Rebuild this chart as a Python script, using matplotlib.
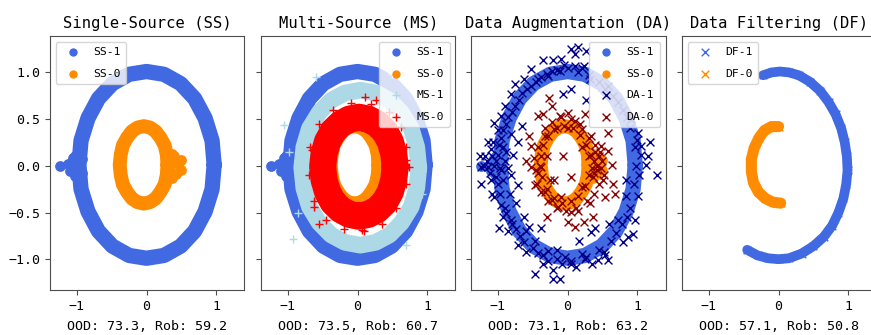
import matplotlib.pyplot as plt

plt.rcParams['font.family'] = 'DejaVu Sans Mono'

titles = ["Single-Source (SS)", "Multi-Source (MS)", "Data Augmentation (DA)", "Data Filtering (DF)"]
scores = ["OOD: 73.3, Rob: 59.2", "OOD: 73.5, Rob: 60.7", "OOD: 73.1, Rob: 63.2", "OOD: 57.1, Rob: 50.8"]

# source ring, class 1 (outer) - centre line
ss1_x = [0.97, 0.94, 0.84, 0.69, 0.49, 0.25, 0.00, -0.25, -0.49, -0.69, -0.84, -0.94,
         -0.97, -0.94, -0.84, -0.69, -0.49, -0.25, 0.00, 0.25, 0.49, 0.69, 0.84, 0.94]
ss1_y = [0.01, 0.27, 0.51, 0.72, 0.88, 0.98, 1.01, 0.98, 0.88, 0.72, 0.51, 0.27,
         0.01, -0.25, -0.49, -0.70, -0.86, -0.96, -0.99, -0.96, -0.86, -0.70, -0.49, -0.25]
ss1_blob_x = [-1.06, -1.10, -1.12, -1.02, -1.03, -0.92, -0.93, -1.245]
ss1_blob_y = [0.08, -0.06, 0.02, 0.11, -0.11, 0.07, -0.08, 0.0]

# source ring, class 0 (inner)
ss0_x = [0.30, 0.29, 0.26, 0.20, 0.13, 0.05, -0.04, -0.13, -0.21, -0.28, -0.34, -0.37,
         -0.385, -0.37, -0.34, -0.28, -0.21, -0.13, -0.04, 0.05, 0.13, 0.20, 0.26, 0.29]
ss0_y = [0.01, 0.12, 0.22, 0.30, 0.37, 0.41, 0.425, 0.41, 0.37, 0.30, 0.22, 0.12,
         0.01, -0.10, -0.20, -0.28, -0.35, -0.39, -0.405, -0.39, -0.35, -0.28, -0.20, -0.10]
ss0_blob_x = [0.40, 0.45, 0.42, 0.33, 0.33, 0.50, 0.50, 0.37, 0.37]
ss0_blob_y = [0.10, 0.02, -0.09, 0.05, -0.06, 0.06, -0.04, 0.13, -0.13]

# multi-source
ms1_x = [0.88, 0.85, 0.77, 0.63, 0.46, 0.26, 0.04, -0.18, -0.38, -0.55, -0.69, -0.77,
         -0.80, -0.77, -0.69, -0.55, -0.38, -0.18, 0.04, 0.26, 0.46, 0.63, 0.77, 0.85]
ms1_y = [-0.02, 0.20, 0.40, 0.57, 0.70, 0.78, 0.81, 0.78, 0.70, 0.57, 0.40, 0.20,
         -0.02, -0.24, -0.44, -0.61, -0.74, -0.82, -0.85, -0.82, -0.74, -0.61, -0.44, -0.24]
ms1_out_x = [-1.06, -0.92, 0.95, -0.60, 0.70, -0.98, 0.50, -0.85, 0.92]
ms1_out_y = [0.44, -0.78, 0.55, 0.95, -0.85, 0.15, 0.98, -0.50, -0.30]
ms0_x = [0.54, 0.52, 0.47, 0.39, 0.28, 0.155, 0.02, -0.115, -0.24, -0.35, -0.43, -0.48,
         -0.50, -0.48, -0.43, -0.35, -0.24, -0.115, 0.02, 0.155, 0.28, 0.39, 0.47, 0.52]
ms0_y = [-0.01, 0.13, 0.26, 0.37, 0.45, 0.50, 0.52, 0.50, 0.45, 0.37, 0.26, 0.13,
         -0.01, -0.15, -0.28, -0.39, -0.47, -0.52, -0.54, -0.52, -0.47, -0.39, -0.28, -0.15]
ms0_out_x = [-0.63, 0.11, 0.74, 0.26, -0.65, 0.69, 0.07, -0.55, 0.70, 0.62, 0.45, 0.20, -0.10,
             -0.35, -0.55, -0.68, -0.70, -0.62, -0.45, -0.20, 0.10, 0.35, 0.55, 0.70]
ms0_out_y = [-0.44, 0.74, -0.01, 0.71, 0.17, 0.06, -0.69, -0.62, 0.20, 0.42, 0.58, 0.66, 0.67,
             0.60, 0.45, 0.20, -0.10, -0.38, -0.58, -0.68, -0.70, -0.62, -0.45, -0.20]

# augmentation
da1_x = [0.05, 0.15, 0.10, 0.27, -0.35, -0.21, -0.09, -0.52, -0.62, -0.76, -0.81, -0.90, -0.95,
         -1.05, -1.14, -0.81, -0.71, -0.66, -0.07, 0.05, 0.27, 0.32, 0.24, -0.42, -0.28, -0.11,
         0.10, 0.91, 1.06, 1.18, 1.15, 1.01, 0.72, 0.53, 1.28, -1.24, -1.14, -0.95, -0.81, -0.71,
         -0.74, -0.95, -1.05, -0.98, -0.62, -0.55, -0.38, -0.71, -0.59, -0.47, -0.21, -0.21,
         -0.11, -0.35, 0.17, 0.34, 0.39, 0.58, 0.53, 0.72, 0.80, 0.87, 0.94, 0.84, 0.96, 1.01,
         1.13, 0.84, 0.05, 0.27, 0.44, -1.24, -1.09, -0.88, -0.81, -0.47, -0.28, -0.04, 0.20,
         -1.15, -1.08, -1.00, -0.90, -1.12, -1.02, -0.92, -1.20, -1.05, -0.88, -1.10, -0.98,
         -0.95, -0.88, -0.80, -0.70, -0.58, -0.45, -0.30, -0.15, 0.00, 0.15, -1.00, -0.92,
         -0.90, -0.80, -0.68, -0.50, -0.35, -0.15, 0.05, 0.25, 0.45, 0.62, 0.78, 0.90, 0.95,
         0.98, 0.97, 0.90, 0.80, 0.65, 0.45, 0.30,
         -1.02, -0.97, -1.10, -1.18, -0.85, -1.00, -1.07, -0.93, -0.85, -0.75, -0.65, -0.52,
         -0.38, -0.22, -0.05, 0.20, -0.97, -0.92, -0.86, -0.74, -0.62, -0.42, -0.28, -0.08,
         0.12, 0.35, 0.52, 0.70, 0.85, 1.03, 1.05, 1.00, 0.85, 0.58, -1.25, -0.78, -0.83,
         -0.60, -0.15, 0.60]
da1_y = [1.25, 1.27, 1.20, 1.23, 1.13, 1.13, 1.14, 1.04, 0.93, 0.88, 0.77, 0.64, 0.53,
         0.46, 0.25, 0.34, 0.25, 0.43, 0.77, 0.82, 0.70, 0.93, 1.07, 0.93, 0.96, 1.02,
         1.07, 0.50, 0.21, 0.25, 0.10, 0.35, 0.68, 0.82, -0.10, -0.19, -0.01, -0.05, -0.10, -0.21,
         -0.40, -0.42, -0.33, -0.67, -0.55, -0.66, -0.67, -0.85, -0.92, -1.16, -1.12, -1.21,
         -1.21, -1.05, -0.80, -0.71, -0.67, -1.01, -0.96, -0.58, -0.82, -0.76, -0.73, -0.32, -0.58, -0.32,
         0.01, -0.15, -1.05, -0.98, -1.01, -0.01, -0.30, -0.51, -0.58, -0.80, -0.91, -0.98, -0.94,
         0.05, 0.10, 0.12, 0.05, -0.08, -0.12, -0.15, 0.00, 0.00, 0.15, 0.18, 0.22,
         0.30, 0.45, 0.58, 0.70, 0.82, 0.90, 0.98, 1.03, 1.05, 1.00, 0.38, 0.20,
         -0.45, -0.62, -0.75, -0.88, -0.95, -1.00, -1.02, -1.00, -0.90, -0.80, -0.62, -0.45, -0.20,
         0.00, 0.20, 0.40, 0.60, 0.75, 0.90, 0.97,
         0.05, -0.02, -0.15, 0.10, -0.02, -0.20, 0.25, 0.38, 0.52, 0.64, 0.78, 0.86,
         0.95, 1.02, 1.08, 1.05, -0.30, -0.55, -0.70, -0.68, -0.82, -0.93, -1.02, -1.05,
         -1.08, -1.05, -0.92, -0.72, -0.55, -0.10, 0.12, 0.28, 0.52, 0.85, 0.10, 0.12, -0.30,
         -0.70, -0.90, -0.62]
da0_x = [-0.23, -0.11, -0.26, 0.00, 0.10, -0.42, -0.55, -0.52, -0.33, 0.20, 0.34, 0.48, 0.58,
         -0.19, 0.00, -0.52, -0.47, -0.42, -0.23, -0.14, 0.05, 0.00, 0.15, 0.24, 0.36, 0.32,
         0.53, 0.65, 0.51, 0.63, 0.20, -0.19, -0.09, -0.33, -0.38,
         -0.38, -0.35, -0.28, -0.15, -0.05, 0.08, 0.18, 0.26, 0.30, 0.38, 0.42, 0.36, 0.45,
         0.30, 0.25, 0.15, 0.05, -0.08, -0.20, -0.30, -0.37, -0.40, 0.40, 0.48, 0.35,
         -0.42, -0.45, -0.44, -0.32, -0.22, -0.10, 0.05, 0.18, 0.30, 0.40, 0.50, 0.52, 0.45,
         0.38, 0.28, 0.12, -0.02, -0.15, -0.28, -0.38, -0.48, 0.42, 0.46, 0.33, 0.38, -0.30,
         -0.25, 0.20, -0.60, 0.25, -0.35, 0.10, -0.30, 0.58, 0.68, -0.06, 0.05]
da0_y = [0.64, 0.53, 0.73, 0.57, 0.48, 0.53, 0.32, 0.21, 0.32, 0.39, 0.32, 0.21, 0.16,
         0.39, 0.41, -0.01, -0.21, -0.08, -0.37, -0.44, -0.49, -0.60, -0.48, -0.60, -0.55, -0.40,
         -0.33, -0.19, -0.15, 0.01, -0.23, -0.15, -0.33, -0.28, -0.01,
         0.10, 0.22, 0.32, 0.40, 0.43, 0.40, 0.33, 0.22, 0.10, 0.05, -0.05, -0.12, 0.10,
         -0.10, -0.22, -0.32, -0.38, -0.40, -0.35, -0.25, -0.12, 0.00, 0.15, -0.02, -0.02,
         0.20, -0.05, -0.20, 0.40, 0.47, 0.52, 0.50, 0.45, 0.30, 0.22, 0.05, -0.10, -0.20,
         -0.30, -0.38, -0.45, -0.48, -0.45, -0.38, -0.28, 0.08, 0.00, 0.15, 0.12, -0.08, 0.10,
         -0.15, 0.20, 0.05, 0.55, 0.55, -0.65, -0.55, 0.35, -0.30, 0.10, -0.12]

# filtering
df1_x = [-0.22, -0.10, 0.02, 0.15, 0.29, 0.45, 0.60, 0.72, 0.82, 0.90, 0.95, 0.98, 0.99,
         0.97, 0.93, 0.86, 0.77, 0.65, 0.50, 0.33, 0.15, 0.00, -0.15, -0.30, -0.45]
df1_y = [0.97, 1.00, 1.01, 1.00, 0.97, 0.90, 0.80, 0.68, 0.55, 0.40, 0.25, 0.10, -0.05,
         -0.20, -0.35, -0.50, -0.64, -0.76, -0.86, -0.94, -0.99, -1.00, -0.99, -0.96, -0.90]
df0_x = [0.00, -0.10, -0.20, -0.28, -0.35, -0.39, -0.39, -0.36, -0.29, -0.19, -0.08, 0.03]
df0_y = [0.42, 0.42, 0.38, 0.30, 0.19, 0.07, -0.06, -0.18, -0.28, -0.35, -0.39, -0.40]


def band(ax, xs, ys, color, lw, marker, s, label, closed=True, z=1):
    px = list(xs) + ([xs[0]] if closed else [])
    py = list(ys) + ([ys[0]] if closed else [])
    ax.plot(px, py, color=color, lw=lw, solid_joinstyle='round', solid_capstyle='round', zorder=z)
    lws = 0 if marker == 'o' else 1.0
    ax.scatter(xs, ys, c=color, marker=marker, s=s, label=label, linewidths=lws, zorder=z)


def source(ax):
    band(ax, ss1_x, ss1_y, 'royalblue', 11, 'o', 36, 'SS-1', z=1)
    ax.scatter(ss1_blob_x, ss1_blob_y, c='royalblue', s=60, linewidths=0, zorder=1)
    band(ax, ss0_x, ss0_y, 'darkorange', 10, 'o', 36, 'SS-0', z=2)
    ax.scatter(ss0_blob_x, ss0_blob_y, c='darkorange', s=60, linewidths=0, zorder=2)


fig = plt.figure(figsize=(8.71, 3.35), dpi=100)
lefts = [0.0574, 0.2996, 0.5408, 0.783]
axes = []
for i in range(4):
    ax = fig.add_axes([lefts[i], 0.1343, 0.2233, 0.7582])
    axes.append(ax)

leg = dict(fontsize=8.2, labelspacing=1.0, borderpad=0.5)

source(axes[0])
axes[0].legend(loc='upper left', **leg)

source(axes[1])
band(axes[1], ms1_x, ms1_y, 'lightblue', 12, '+', 30, 'MS-1', z=3)
axes[1].scatter(ms1_out_x, ms1_out_y, c='lightblue', marker='+', s=30, linewidths=1, zorder=3)
band(axes[1], ms0_x, ms0_y, 'red', 19.5, '+', 30, 'MS-0', z=4)
axes[1].scatter(ms0_out_x, ms0_out_y, c='red', marker='+', s=30, linewidths=1, zorder=4)
axes[1].legend(loc='upper right', **leg)

source(axes[2])
axes[2].scatter(da1_x, da1_y, c='darkblue', marker='x', s=32, linewidths=1, label='DA-1', zorder=3)
axes[2].scatter(da0_x, da0_y, c='darkred', marker='x', s=32, linewidths=1, label='DA-0', zorder=4)
axes[2].legend(loc='upper right', **leg)

band(axes[3], df1_x, df1_y, 'royalblue', 7, 'x', 30, 'DF-1', closed=False, z=1)
band(axes[3], df0_x, df0_y, 'darkorange', 8, 'x', 30, 'DF-0', closed=False, z=2)
axes[3].legend(loc='upper left', **leg)

for i, ax in enumerate(axes):
    ax.set_xlim(-1.385, 1.405)
    ax.set_ylim(-1.33, 1.39)
    ax.set_xticks([-1, 0, 1])
    ax.set_yticks([-1.0, -0.5, 0.0, 0.5, 1.0])
    ax.tick_params(labelsize=9.5, color='0.3')
    if i > 0:
        ax.tick_params(labelleft=False)
    for sp in ax.spines.values():
        sp.set_color('0.3')
    ax.set_title(titles[i], fontsize=11.2)
    ax.set_xlabel(scores[i], fontsize=9.6, labelpad=5)

fig.savefig('out.png', dpi=100)
